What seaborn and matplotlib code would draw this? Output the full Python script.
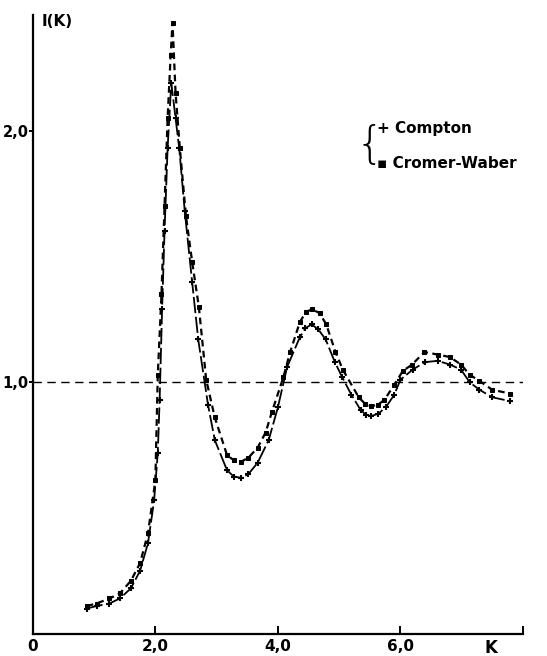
import matplotlib
matplotlib.use("Agg")
import matplotlib.pyplot as plt
import seaborn as sns
import pandas as pd

# Compton (+)
k_compton = [0.88, 1.04, 1.25, 1.42, 1.60, 1.75, 1.88, 1.98, 2.04, 2.07, 2.11, 2.15, 2.20,
             2.26, 2.33, 2.39, 2.48, 2.60, 2.70, 2.86, 2.97, 3.17, 3.28, 3.40, 3.52, 3.67,
             3.85, 4.00, 4.15, 4.36, 4.45, 4.55, 4.66, 4.78, 4.93, 5.05, 5.20, 5.35, 5.44,
             5.52, 5.64, 5.76, 5.90, 6.00, 6.20, 6.40, 6.61, 6.81, 6.99, 7.13, 7.29, 7.50,
             7.79]
i_compton = [0.10, 0.11, 0.12, 0.14, 0.18, 0.25, 0.36, 0.53, 0.72, 0.93, 1.29, 1.60, 1.93,
             2.19, 2.05, 1.93, 1.68, 1.40, 1.17, 0.91, 0.77, 0.65, 0.625, 0.62, 0.635, 0.68,
             0.77, 0.90, 1.06, 1.18, 1.215, 1.23, 1.21, 1.17, 1.08, 1.02, 0.95, 0.89, 0.87,
             0.865, 0.875, 0.90, 0.95, 1.01, 1.05, 1.08, 1.085, 1.07, 1.05, 1.00, 0.97, 0.94,
             0.925]

# Cromer-Waber (square)
k_cromer = [0.88, 1.04, 1.25, 1.42, 1.60, 1.75, 1.88, 2.00, 2.04, 2.10, 2.15, 2.20, 2.25,
            2.28, 2.33, 2.40, 2.50, 2.60, 2.71, 2.83, 2.97, 3.17, 3.28, 3.40, 3.52, 3.67,
            3.80, 3.90, 4.09, 4.20, 4.36, 4.46, 4.56, 4.68, 4.79, 4.94, 5.06, 5.32, 5.42,
            5.52, 5.63, 5.74, 5.90, 6.04, 6.19, 6.39, 6.61, 6.81, 6.99, 7.13, 7.29, 7.50,
            7.79]
i_cromer = [0.11, 0.12, 0.14, 0.16, 0.21, 0.28, 0.40, 0.61, 1.03, 1.35, 1.70, 2.05, 2.30,
            2.43, 2.15, 1.93, 1.66, 1.48, 1.30, 1.01, 0.86, 0.71, 0.69, 0.684, 0.70, 0.74,
            0.80, 0.88, 1.02, 1.12, 1.24, 1.28, 1.29, 1.275, 1.23, 1.12, 1.05, 0.94, 0.915,
            0.905, 0.91, 0.93, 0.99, 1.045, 1.07, 1.12, 1.11, 1.10, 1.07, 1.03, 1.005, 0.97,
            0.955]

x_ticks = [0, 2, 4, 6, 8]
x_labels = ["0", "2,0", "4,0", "6,0", ""]
y_ticks = [1, 2]
y_labels = ["1,0", "2,0"]

sns.set_style("ticks")
plt.rcParams['font.family'] = ['DejaVu Sans']
plt.rcParams['font.weight'] = 'bold'
for key in ['text.color', 'axes.labelcolor', 'xtick.color', 'ytick.color', 'axes.edgecolor']:
    plt.rcParams[key] = 'black'

df_c = pd.DataFrame({'K': k_compton, 'I': i_compton})
df_w = pd.DataFrame({'K': k_cromer, 'I': i_cromer})

fig = plt.figure(figsize=(5.47, 6.56), dpi=100)
ax = fig.add_axes([0.060, 0.034, 0.896, 0.943])

sns.lineplot(data=df_c, x='K', y='I', sort=False, ax=ax, color='black', lw=1.3,
             marker='+', markersize=5, markeredgewidth=1.5, markeredgecolor='black',
             dashes=False)
ax.lines[-1].set_dashes([9, 2])
sns.lineplot(data=df_w, x='K', y='I', sort=False, ax=ax, color='black', lw=1.6,
             marker='s', markersize=3, markeredgecolor='black', dashes=False)
ax.lines[-1].set_dashes([3, 2])

ax.axhline(1.0, color='black', lw=1.0, dashes=[6, 4], zorder=0)

ax.set_xlim(0, 8.0)
ax.set_ylim(0, 2.46)
sns.despine(ax=ax)
for s in ['left', 'bottom']:
    ax.spines[s].set_linewidth(1.6)
ax.set_xticks(x_ticks)
ax.set_xticklabels(x_labels)
ax.set_yticks(y_ticks)
ax.set_yticklabels(y_labels)
ax.tick_params(axis='x', direction='in', length=6, width=1.4, labelsize=11, pad=4)
ax.tick_params(axis='y', direction='out', length=3, width=1.4, labelsize=10.5, pad=0)
ax.set_xlabel('')
ax.set_ylabel('')

ax.text(0.15, 2.435, 'I(K)', fontsize=11, fontweight='bold', va='center', ha='left')
ax.text(7.47, -0.055, 'K', fontsize=12, fontweight='bold', va='center', ha='center',
        clip_on=False)

# legend drawn as text with a brace
ax.text(5.50, 1.94, '{', fontsize=32, fontweight='light', va='center', ha='center')
ax.text(5.62, 2.01, '+ Compton', fontsize=11, fontweight='bold', va='center', ha='left')
ax.text(5.62, 1.87, '\u25aa Cromer-Waber', fontsize=11, fontweight='bold', va='center', ha='left')

fig.savefig('out.png', dpi=100)
